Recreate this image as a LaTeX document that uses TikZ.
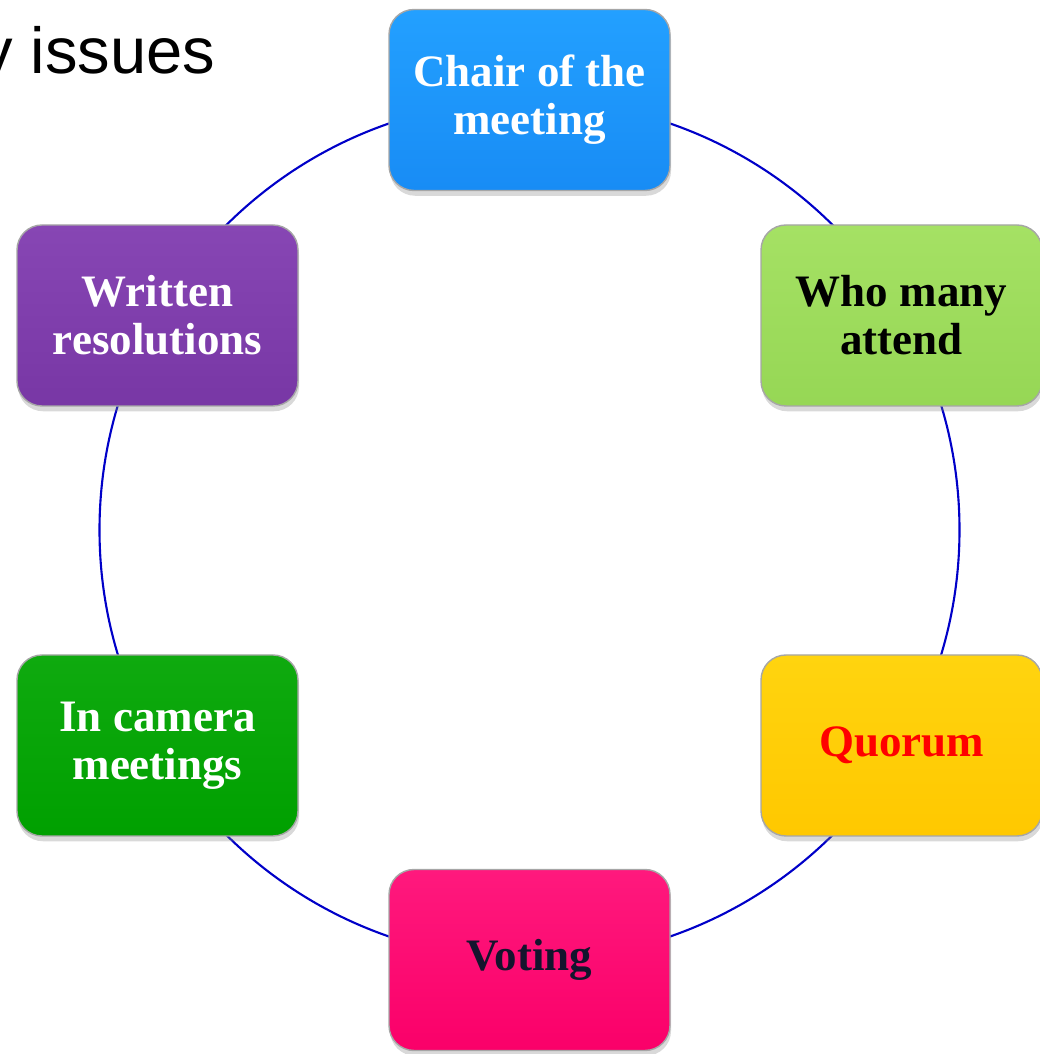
\documentclass[tikz,border=0pt]{standalone}
\usepackage{fontspec}
\setmainfont{Liberation Serif}
\newfontfamily\titlefont{Liberation Sans}
\usetikzlibrary{shadows}

\definecolor{chairblue}{RGB}{24,140,245}
\definecolor{chairtop}{RGB}{35,160,255}
\definecolor{attendgreen}{RGB}{150,215,85}
\definecolor{attendtop}{RGB}{165,225,100}
\definecolor{quorumgold}{RGB}{255,200,0}
\definecolor{quorumtop}{RGB}{255,212,15}
\definecolor{votingpink}{RGB}{250,0,105}
\definecolor{votingtop}{RGB}{255,25,125}
\definecolor{cameragreen}{RGB}{0,160,0}
\definecolor{cameratop}{RGB}{15,170,15}
\definecolor{writtenpurple}{RGB}{120,55,165}
\definecolor{writtentop}{RGB}{135,70,180}
\definecolor{ringblue}{RGB}{0,0,200}
\definecolor{votingtext}{RGB}{20,20,45}

\tikzset{
  issuebox/.style={shape=rectangle, rounded corners=0.25cm, minimum width=2.81cm, minimum height=1.81cm,
    align=center, font=\fontsize{12.8}{13.6}\selectfont\bfseries, draw=black!35, line width=0.4pt,
    drop shadow={shadow xshift=0.3pt, shadow yshift=-1.5pt, opacity=0.3}},
}

\begin{document}
\begin{tikzpicture}
%%%%%%%%%%%%%%%%%%%%%%%%%%%%%%%%%%%%%%%%%%% HELP LINES
%\draw[help lines] (0,0) grid +(10,10);
\useasboundingbox (0,0) rectangle (10.39,10.54);

%%%%%%%%%%%%%%%%%%%%%%%%%%%%%%%%%%%%%%%%%%% title
\node[anchor=base east, inner sep=0pt, font=\titlefont\fontsize{18.5}{20}\selectfont](title) at (2.16,9.80){y issues};

%%%%%%%%%%%%%%%%%%%%%%%%%%%%%%%%%%%%%%%%%%% ring
\coordinate (hub) at (5.295,5.24);
\draw[ringblue, line width=0.6pt] (hub) circle (4.3);

%%%%% issues
\node[issuebox, top color=chairtop, bottom color=chairblue, text=white](chair) at (5.295,9.54){Chair of the\\meeting};
\node[issuebox, top color=attendtop, bottom color=attendgreen, text=black](attend) at (9.015,7.385){Who many\\attend};
\node[issuebox, top color=quorumtop, bottom color=quorumgold, text=red](quorum) at (9.015,3.085){Quorum};
\node[issuebox, top color=votingtop, bottom color=votingpink, text=votingtext](voting) at (5.295,0.94){Voting};
\node[issuebox, top color=cameratop, bottom color=cameragreen, text=white](camera) at (1.575,3.085){In camera\\meetings};
\node[issuebox, top color=writtentop, bottom color=writtenpurple, text=white](written) at (1.575,7.385){Written\\resolutions};
\end{tikzpicture}
\end{document}
